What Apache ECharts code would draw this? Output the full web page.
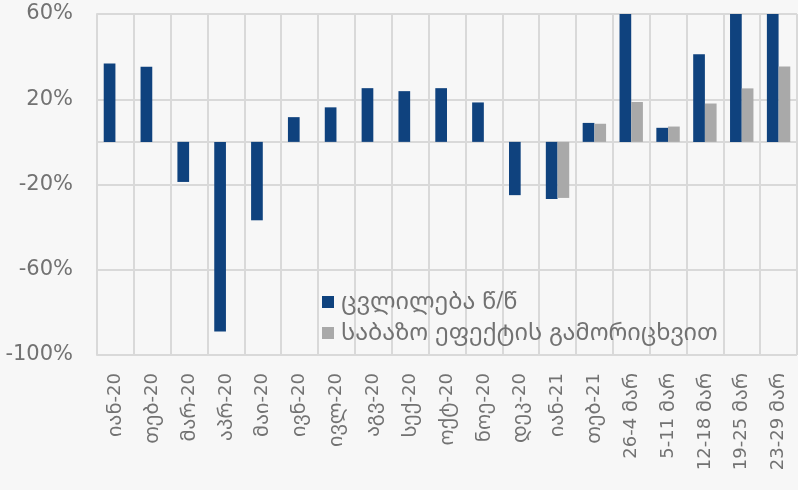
<!DOCTYPE html>
<html>
<head>
<meta charset="utf-8">
<script src="https://cdn.jsdelivr.net/npm/echarts@6/dist/echarts.min.js"></script>
<style>
html,body{margin:0;padding:0;background:#f7f7f7;}
#c{width:798px;height:490px;}
</style>
</head>
<body>
<div id="c"></div>
<script>
const categories = ['იან-20','თებ-20','მარ-20','აპრ-20','მაი-20','ივნ-20','ივლ-20','აგვ-20','სექ-20','ოქტ-20','ნოე-20','დეკ-20','იან-21','თებ-21','26-4 მარ','5-11 მარ','12-18 მარ','19-25 მარ','23-29 მარ'];
const seriesNames = ['ცვლილება წ/წ','საბაზო ეფექტის გამორიცხვით'];
const changeYoY = [36.8,35.2,-18.8,-89,-36.8,11.6,16.2,25.2,23.8,25.2,18.5,-25,-26.8,8.9,75,6.6,41.1,80,85];
const exclBase = [null,null,null,null,null,null,null,null,null,null,null,null,-26.3,8.5,18.7,7.2,18.0,25.1,35.4];
const yMin = -100, yMax = 60, yStep = 40;

const NUMFONT = "'DejaVu Sans', sans-serif";
const GEOFONT = "'Noto Sans Georgian', 'DejaVu Sans', sans-serif";
const TXT = '#727272';
function geoRich(s) {
  return s.split(/([\u10A0-\u10FF]+)/).filter(p => p.length).map(p =>
    /[\u10A0-\u10FF]/.test(p) ? '{g|' + p + '}' : '{n|' + p + '}').join('');
}

const chart = echarts.init(document.getElementById('c'), null, {renderer:'canvas'});
chart.setOption({
  backgroundColor: '#f7f7f7',
  animation: false,
  grid: {left: 97, right: 1, top: 14, bottom: 135, containLabel: false},
  legend: {
    orient: 'vertical', left: 317, top: 285,
    itemWidth: 12, itemHeight: 12, itemGap: 7,
    icon: 'rect',
    formatter: name => geoRich(name),
    textStyle: {
      color: TXT, padding: [0,0,0,2],
      rich: {
        g: {fontSize: 23.5, fontFamily: GEOFONT, color: TXT, lineHeight: 24},
        n: {fontSize: 21, fontFamily: NUMFONT, color: TXT, lineHeight: 24}
      }
    },
    data: seriesNames
  },
  xAxis: {
    type: 'category', data: categories,
    axisLine: {show: true, onZero: true, lineStyle: {color: '#d9d9d9', width: 2}},
    axisTick: {show: false},
    splitLine: {show: true, interval: 0, lineStyle: {color: '#d9d9d9', width: 2}},
    axisLabel: {
      rotate: 90, interval: 0, margin: 18, color: TXT,
      formatter: v => geoRich(v),
      rich: {
        g: {fontSize: 20, fontFamily: GEOFONT, color: TXT, lineHeight: 22},
        n: {fontSize: 18, fontFamily: NUMFONT, color: TXT, lineHeight: 22}
      }
    }
  },
  yAxis: {
    type: 'value', min: yMin, max: yMax, interval: yStep,
    axisLine: {show: true, lineStyle: {color: '#d9d9d9', width: 2}},
    axisTick: {show: false},
    splitLine: {show: true, lineStyle: {color: '#d9d9d9', width: 2}},
    axisLabel: {formatter: v => v + '%', fontSize: 21, color: TXT, margin: 24, fontFamily: NUMFONT}
  },
  series: [
    {name: seriesNames[0], type: 'bar', data: changeYoY, barWidth: 11.7, barGap: '0%', clip: true,
     itemStyle: {color: '#0f427e'}},
    {name: seriesNames[1], type: 'bar', data: exclBase, barWidth: 11.7, barGap: '0%', clip: true,
     itemStyle: {color: '#a9a9a9'}}
  ]
});
</script>
</body>
</html>
